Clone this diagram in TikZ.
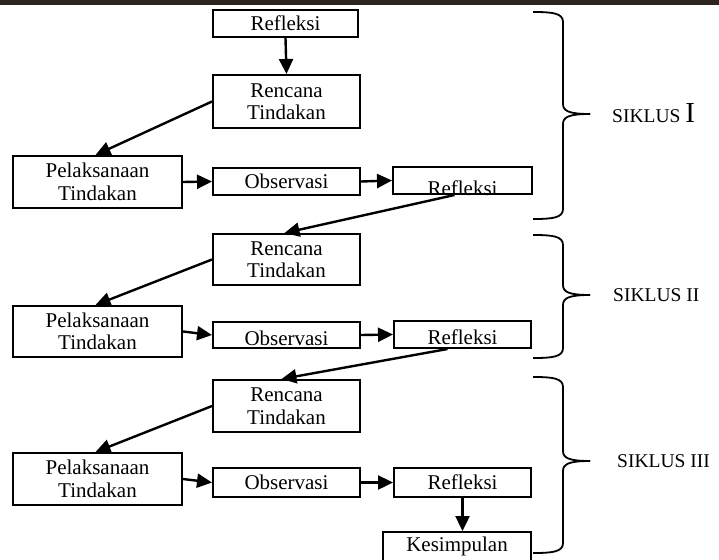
\documentclass[tikz,border=0pt]{standalone}
\usepackage{fontspec}
\setmainfont{Liberation Serif}
\usetikzlibrary{arrows.meta,calc}
\definecolor{barc}{RGB}{45,36,32}
\newcommand\mybrace[3]{%
  \draw[brc] (533,#1) .. controls (552,#1) and (563,#1+1) .. (563,#1+10)
    -- (563,#3-10) .. controls (563,#3-3) and (569,#3) .. (590,#3);
  \draw[brc] (590,#3) .. controls (569,#3) and (563,#3+3) .. (563,#3+10)
    -- (563,#2-10) .. controls (563,#2-1) and (552,#2) .. (533,#2);}
\begin{document}
\begin{tikzpicture}[x=1pt,y=-1pt,
  box/.style={draw,line width=2pt,inner sep=0pt,font=\fontsize{21}{22.5}\selectfont,align=center},
  txt/.style={inner sep=0pt,anchor=base,font=\fontsize{21}{22.5}\selectfont},
  arr/.style={line width=2.4pt,-{Triangle[length=15pt,width=14pt]}},
  brc/.style={line width=1.8pt},
  lab/.style={anchor=west,inner sep=0pt,font=\fontsize{19.5}{21}\selectfont}]
\useasboundingbox (0,0) rectangle (719,559);
\fill[barc] (0,0) rectangle (719,5);
% cycle I
\node[box,minimum width=145pt,minimum height=27pt] (R0) at (285.5,23.5) {Refleksi};
\node[box,minimum width=147pt,minimum height=53pt] (RT1) at (286.5,101.5) {Rencana\\Tindakan};
\node[box,minimum width=169pt,minimum height=52pt] (P1) at (97.5,182) {Pelaksanaan\\Tindakan};
\node[box,minimum width=147pt,minimum height=27pt] (O1) at (286.5,181.5) {Observasi};
\node[box,minimum width=139pt,minimum height=27pt] (RF1) at (462.5,180.5) {};
\node[txt] (RF1t) at (462.5,195) {Refleksi};
% cycle II
\node[box,minimum width=147pt,minimum height=51pt] (RT2) at (286.5,259.5) {Rencana\\Tindakan};
\node[box,minimum width=169pt,minimum height=51pt] (P2) at (97.5,331.5) {Pelaksanaan\\Tindakan};
\node[box,minimum width=147pt,minimum height=26pt] (O2) at (286.5,335) {};
\node[txt] (O2t) at (286.5,345) {Observasi};
\node[box,minimum width=137pt,minimum height=27pt] (RF2) at (462.5,334.5) {};
\node[txt] (RF2t) at (462.5,344) {Refleksi};
% cycle III
\node[box,minimum width=147pt,minimum height=52pt] (RT3) at (286.5,406) {Rencana\\Tindakan};
\node[box,minimum width=169pt,minimum height=52pt] (P3) at (97.5,479) {Pelaksanaan\\Tindakan};
\node[box,minimum width=147pt,minimum height=29pt] (O3) at (286.5,482.5) {Observasi};
\node[box,minimum width=137pt,minimum height=29pt] (RF3) at (462.5,482.5) {Refleksi};
\node[box,minimum width=148pt,minimum height=29pt] (K) at (457,546.5) {Kesimpulan};
% arrows
\draw[arr] (R0.south) -- (RT1.north);
\draw[arr] (RT1.west) -- ($(P1.north)+(-2,0)$);
\draw[arr] (P1.east) -- (O1.west);
\draw[arr] (O1.east) -- (RF1.west);
\draw[arr] ($(RF1.south)+(-8,0)$) -- ($(RT2.north)+(-2,0)$);
\draw[arr] (RT2.west) -- ($(P2.north)+(-2,0)$);
\draw[arr] (P2.east) -- (O2.west);
\draw[arr] (O2.east) -- (RF2.west);
\draw[arr] ($(RF2.south)+(-15,0)$) -- ($(RT3.north)+(-5,0)$);
\draw[arr] (RT3.west) -- ($(P3.north)+(-2,0)$);
\draw[arr] (P3.east) -- (O3.west);
\draw[arr] (O3.east) -- (RF3.west);
\draw[arr] (RF3.south) -- (RF3.south |- K.north);
% braces
\mybrace{12}{219}{114}
\mybrace{235}{358}{295}
\mybrace{377}{553}{461}
\node[lab] (S1) at (612,113) {SIKLUS {\fontsize{29}{30}\selectfont I}};
\node[lab] (S2) at (613,295) {SIKLUS II};
\node[lab] (S3) at (617,461) {SIKLUS III};
\end{tikzpicture}
\end{document}
